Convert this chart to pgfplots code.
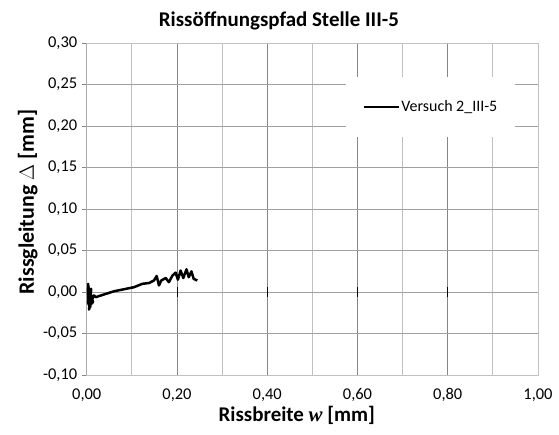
\documentclass[border=0pt]{standalone}
\usepackage{pgfplots}
\pgfplotsset{compat=1.18}
\usepackage{fontspec}
\setmainfont{Carlito}
\newfontfamily\serifit{Liberation Serif}
\definecolor{majg}{RGB}{134,134,134}
\definecolor{ming}{RGB}{192,192,192}
\definecolor{hg}{RGB}{160,160,160}
\begin{document}
\begin{tikzpicture}
\begin{axis}[name=ax,
  scale only axis, width=451bp, height=332bp,
  xmin=0, xmax=1, ymin=-0.1, ymax=0.3,
  xtick={0,0.2,...,1.0}, minor xtick={0.1,0.3,0.5,0.7,0.9},
  ytick={-0.1,-0.05,...,0.31},
  grid=both,
  major grid style={majg, line width=0.8pt},
  minor grid style={ming, line width=0.8pt},
  y grid style={hg, line width=0.8pt},
  axis line style={ming, line width=0.8pt},
  xtick style={draw=none},
  minor tick length=0pt,
  ytick style={majg, line width=0.8pt},
  ytick pos=left, tick align=outside, major tick length=5bp,
  /pgf/number format/.cd, fixed, fixed zerofill, precision=2, use comma,
  /pgfplots/.cd,
  /pgf/number format/assume math mode=true,
  tick label style={font=\fontsize{16.5}{18}\selectfont, black},
  yticklabel style={xshift=-1bp},
  xticklabel style={yshift=-5bp},
  extra y ticks={0}, extra y tick labels={},
  extra y tick style={grid style={black, line width=0.9pt}, major tick length=0pt},
  legend style={at={(0.575,0.898)}, anchor=north west, draw=none, fill=white,
    font=\fontsize{16}{18}\selectfont, inner xsep=16bp, inner ysep=22bp,
    nodes={inner sep=1.5bp},
    legend cell align=left},
  legend image code/.code={\draw[black, line width=2.5pt] (0bp,0bp) -- (35bp,0bp);},
  clip=true,
]
\addplot[black, line width=2.5pt, line join=round] coordinates {
(0.003,0.008) (0.004,-0.015) (0.002,0.005) (0.006,-0.020) (0.003,0.010)
(0.008,-0.018) (0.002,-0.012) (0.010,0.004) (0.005,-0.021) (0.012,-0.008)
(0.004,0.006) (0.014,-0.012) (0.006,-0.016) (0.016,-0.004) (0.020,-0.006)
(0.060,0.001) (0.105,0.006) (0.123,0.010) (0.138,0.011) (0.149,0.014)
(0.155,0.0195) (0.160,0.008) (0.165,0.014) (0.175,0.017) (0.182,0.012)
(0.190,0.020) (0.197,0.0235) (0.202,0.015) (0.208,0.026) (0.214,0.017)
(0.221,0.0275) (0.226,0.018) (0.232,0.025) (0.237,0.016) (0.245,0.014)
};
\addlegendentry{Versuch 2\_III-5}
\draw[ming, line width=0.8pt] (rel axis cs:1,0) -- (rel axis cs:1,1) -- (rel axis cs:0,1);
\draw[majg, line width=0.8pt] (rel axis cs:0,0) -- (rel axis cs:0,1);
\pgfplotsinvokeforeach{0.2,0.4,0.6,0.8}{\draw[black, line width=0.8pt] (axis cs:#1,-0.006) -- (axis cs:#1,0.006);}
\end{axis}
\node[font=\bfseries\fontsize{21}{24}\selectfont] at ([xshift=192bp,yshift=22bp]ax.north west) {Rissöffnungspfad Stelle III-5};
\node[font=\bfseries\fontsize{21}{24}\selectfont] at ([xshift=210bp,yshift=-40bp]ax.south west) {Rissbreite {\serifit\itshape w} [mm]};
\node[font=\bfseries\fontsize{22}{24}\selectfont, rotate=90] at ([xshift=-59bp,yshift=173bp]ax.south west) {Rissgleitung {\serifit $\Delta$} [mm]};
\pgfresetboundingbox
\path[use as bounding box] ([xshift=-86.7bp,yshift=-59bp]ax.south west) rectangle ([xshift=21bp,yshift=43bp]ax.north east);
\end{tikzpicture}
\end{document}
